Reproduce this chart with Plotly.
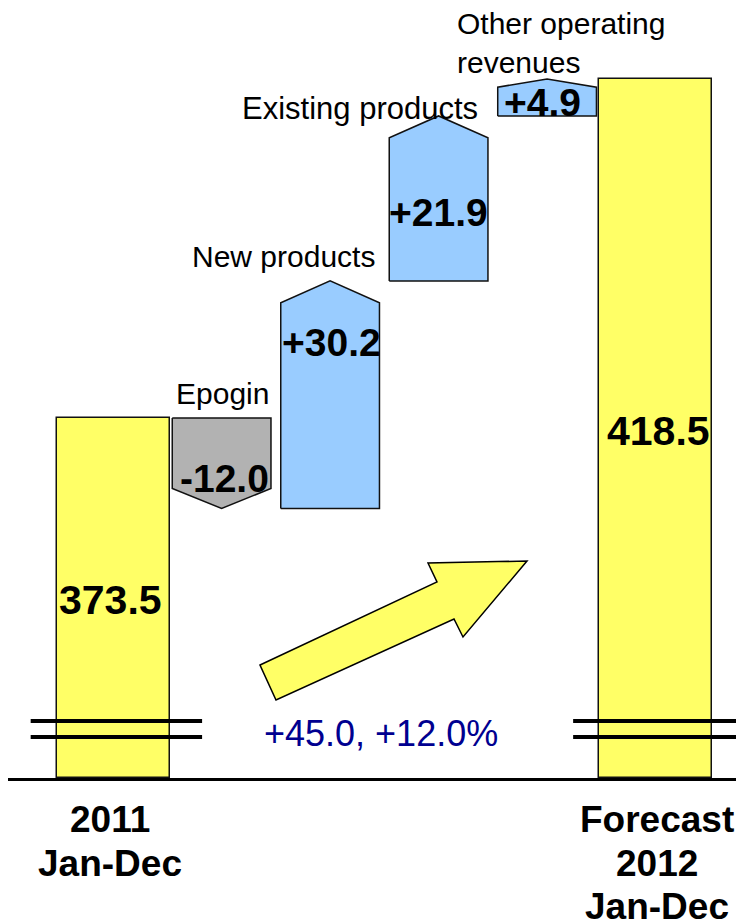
import plotly.graph_objects as go

# ---------------- data ----------------
start_label = ["2011", "Jan-Dec"]
end_label = ["Forecast", "2012", "Jan-Dec"]
step_labels = ["Epogin", "New products", "Existing products", "Other operating<br>revenues"]
start_value = 373.5
step_values = [-12.0, 30.2, 21.9, 4.9]
end_value = 418.5

# ---------------- style / layout ----------------
OFF = 8                      # browser default body margin
PAGE_W, PAGE_H = 744, 924
W, H = PAGE_W - OFF, PAGE_H - OFF
PLOT_LEFT, PLOT_RIGHT, PLOT_TOP, PLOT_BOTTOM = 8, 744, 8, 778   # page pixels
ML = PLOT_LEFT - OFF
MR = PAGE_W - PLOT_RIGHT
MT = PLOT_TOP - OFF
MB = PAGE_H - PLOT_BOTTOM
PW = PLOT_RIGHT - PLOT_LEFT
PH = PLOT_BOTTOM - PLOT_TOP
X_RANGE = [-0.969, 5.815]
Y_RANGE = [325.71, 427.93]
FONT = "Liberation Sans, Arial, sans-serif"
YELLOW = "#FFFF66"
BLUE = "#99CCFF"
GRAY = "#B2B2B2"
EDGE = "#111111"
NAVY = "#000090"


def xd(p):  # page pixel -> data x
    return X_RANGE[0] + (p - PLOT_LEFT) / PW * (X_RANGE[1] - X_RANGE[0])


def yd(p):  # page pixel -> data y
    return Y_RANGE[1] - (p - PLOT_TOP) / PH * (Y_RANGE[1] - Y_RANGE[0])


def xp(p):  # page pixel -> paper x
    return (p - PLOT_LEFT) / PW


def yp(p):  # page pixel -> paper y
    return 1 - (p - PLOT_TOP) / PH


fig = go.Figure()

# end bars
n = len(step_values)
for xi, val in [(0, start_value), (n + 1, end_value)]:
    fig.add_trace(go.Bar(x=[xi], y=[val - Y_RANGE[0]], base=[Y_RANGE[0]], width=1.04,
                         marker=dict(color=YELLOW, line=dict(color=EDGE, width=1.5)),
                         hoverinfo="skip", showlegend=False))

# pentagon step bars
level = start_value
hw = 0.455
for i, v in enumerate(step_values):
    xi = i + 1
    lo, hi = (level, level + v) if v >= 0 else (level + v, level)
    tip = min(2.9, 0.22 * abs(v))
    xs = [xi - hw, xi + hw, xi + hw, xi, xi - hw, xi - hw]
    if v >= 0:
        ys = [lo, lo, hi - tip, hi, hi - tip, lo]
        fc = BLUE
    else:
        ys = [hi, hi, lo + tip, lo, lo + tip, hi]
        fc = GRAY
    fig.add_trace(go.Scatter(x=xs, y=ys, mode="lines", fill="toself", fillcolor=fc,
                             line=dict(color=EDGE, width=1.5), hoverinfo="skip",
                             showlegend=False))
    level += v

shapes = []
# axis-break marks
for xi in [0, n + 1]:
    for p in [721, 737]:
        shapes.append(dict(type="line", xref="x", yref="paper", x0=xi - 0.76, x1=xi + 0.82,
                           y0=yp(p), y1=yp(p), line=dict(color="black", width=4)))

# big growth arrow (decorative)
arrow_px = [(260, 665), (437, 582), (428, 563), (527, 561), (463, 637), (454, 619), (276, 700)]
path = "M " + " L ".join(f"{xd(a):.4f},{yd(b):.4f}" for a, b in arrow_px) + " Z"
shapes.append(dict(type="path", xref="x", yref="y", path=path, fillcolor=YELLOW,
                   line=dict(color="black", width=1.5), layer="above"))

ann = []


def add_text(text, px_x, px_y, size, bold=False, color="black", xanchor="center", align="center"):
    ann.append(dict(text=text, x=xp(px_x), y=yp(px_y), xref="paper", yref="paper",
                    xanchor=xanchor, yanchor="middle", align=align, showarrow=False,
                    font=dict(family=FONT, size=size, color=color,
                              weight="bold" if bold else "normal")))


# value labels
add_text(f"{start_value:.1f}", 110, 600, 41, bold=True)
add_text(f"{end_value:.1f}", 658, 431, 41, bold=True)
val_pos = [(224, 478), (331, 342), (438, 213), (542, 103)]
for v, (a, b) in zip(step_values, val_pos):
    add_text(f"{v:+.1f}", a, b, 39, bold=True)

# step name labels
add_text(step_labels[0], 222, 393, 30)
add_text(step_labels[1], 283, 256, 30)
add_text(step_labels[2], 360, 108, 31)
add_text(step_labels[3], 455, 43, 30, xanchor="left", align="left")

# category labels
for k, t in enumerate(start_label):
    add_text(t, 110, 820 + 43 * k, 37, bold=True)
for k, t in enumerate(end_label):
    add_text(t, 657, 820 + 43 * k, 37, bold=True)

# growth label
diff = end_value - start_value
pct = diff / start_value * 100
add_text(f"{diff:+.1f}, {pct:+.1f}%", 381, 733, 36, color=NAVY)

fig.update_layout(
    width=W, height=H, margin=dict(l=ML, r=MR, t=MT, b=MB, autoexpand=False),
    paper_bgcolor="white", plot_bgcolor="white",
    xaxis=dict(range=X_RANGE, showgrid=False, zeroline=False, showticklabels=False,
               ticks="", showline=True, linecolor="black", linewidth=3, fixedrange=True),
    yaxis=dict(range=Y_RANGE, showgrid=False, zeroline=False, showticklabels=False,
               ticks="", showline=False, fixedrange=True),
    shapes=shapes, annotations=ann, showlegend=False, bargap=0,
)

fig.write_html("out.html")
